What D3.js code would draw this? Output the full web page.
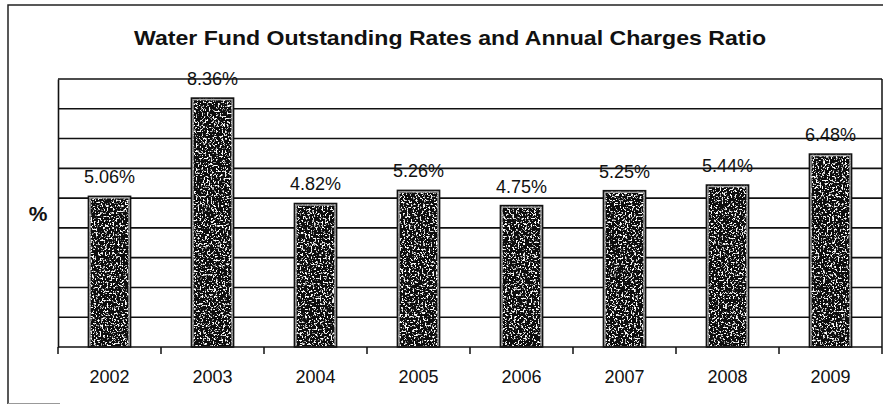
<!DOCTYPE html>
<html><head><meta charset="utf-8">
<script src="https://cdn.jsdelivr.net/npm/d3@7"></script>
<style>body{margin:0;background:#fff}svg{display:block}text{font-family:"Liberation Sans",Arial,sans-serif;fill:#111}</style>
</head><body>
<script>
const years = ["2002","2003","2004","2005","2006","2007","2008","2009"];
const ratios = [5.06, 8.36, 4.82, 5.26, 4.75, 5.25, 5.44, 6.48];
const labels = ["5.06%","8.36%","4.82%","5.26%","4.75%","5.25%","5.44%","6.48%"];
const yTicks = [0,1,2,3,4,5,6,7,8,9];
const title = "Water Fund Outstanding Rates and Annual Charges Ratio";

const W = 883, H = 405;
const m = {left:58, right:1, top:79, bottom:58};
const svg = d3.select("body").append("svg").attr("width",W).attr("height",H);

const defs = svg.append("defs");
const f = defs.append("filter").attr("id","speckle").attr("x",0).attr("y",0).attr("width",1).attr("height",1);
f.append("feTurbulence").attr("type","fractalNoise").attr("baseFrequency","0.55").attr("numOctaves",2).attr("seed",4).attr("result","noise");
f.append("feColorMatrix").attr("in","noise").attr("type","matrix")
  .attr("values","0 0 0 0 1  0 0 0 0 1  0 0 0 0 1  9 0 0 0 -5").attr("result","white");
f.append("feComposite").attr("in","white").attr("in2","SourceGraphic").attr("operator","in").attr("result","spots");
const fm = f.append("feMerge");
fm.append("feMergeNode").attr("in","SourceGraphic");
fm.append("feMergeNode").attr("in","spots");

// outer border
svg.append("path").attr("d",`M8,404 L8,5 L883,5`).attr("fill","none").attr("stroke","#222").attr("stroke-width",1.5);
svg.append("path").attr("d",`M8,403.5 L60,403.5`).attr("fill","none").attr("stroke","#999").attr("stroke-width",1);

const x = d3.scaleBand().domain(years).range([m.left, W-m.right]).paddingInner(0.59).paddingOuter(0.295);
const y = d3.scaleLinear().domain([0,9]).range([H-m.bottom, m.top]);

svg.append("text").attr("x",450).attr("y",45).attr("text-anchor","middle")
  .attr("font-size",21).attr("font-weight","bold")
  .attr("textLength",632).attr("lengthAdjust","spacingAndGlyphs").text(title);

// gridlines
svg.append("g").selectAll("line").data(yTicks.slice(1)).join("line")
  .attr("x1",m.left).attr("x2",W-m.right).attr("y1",d=>y(d)).attr("y2",d=>y(d))
  .attr("stroke","#111").attr("stroke-width",1.6);
// right border of plot
svg.append("line").attr("x1",W-m.right).attr("x2",W-m.right).attr("y1",y(9)).attr("y2",y(0)).attr("stroke","#111").attr("stroke-width",1.5);

// y axis
const yAxis = svg.append("g").attr("transform",`translate(${m.left},0)`).call(d3.axisLeft(y).tickValues([]).tickSizeOuter(0));
yAxis.select(".domain").attr("stroke","#111").attr("stroke-width",1.6);

// bars
svg.append("g").selectAll("rect").data(ratios).join("rect")
  .attr("x",(d,i)=>x(years[i])).attr("width",x.bandwidth())
  .attr("y",d=>y(d)).attr("height",d=>y(0)-y(d))
  .attr("fill","#0c0c0c").attr("filter","url(#speckle)");
svg.append("g").selectAll("rect").data(ratios).join("rect")
  .attr("x",(d,i)=>x(years[i])+1.5).attr("width",x.bandwidth()-3)
  .attr("y",d=>y(d)+1.5).attr("height",d=>y(0)-y(d)-1.5)
  .attr("fill","none").attr("stroke","#aaa").attr("stroke-width",1.5);
svg.append("g").selectAll("rect").data(ratios).join("rect")
  .attr("x",(d,i)=>x(years[i])).attr("width",x.bandwidth())
  .attr("y",d=>y(d)).attr("height",d=>y(0)-y(d))
  .attr("fill","none").attr("stroke","#111").attr("stroke-width",1.5);

// x axis
const tickPos = d3.range(years.length+1).map(i => m.left + i*x.step());
const xa = svg.append("g");
xa.append("line").attr("x1",m.left).attr("x2",W-m.right).attr("y1",y(0)).attr("y2",y(0)).attr("stroke","#111").attr("stroke-width",1.6);
xa.selectAll("line.t").data(tickPos).join("line").attr("class","t")
  .attr("x1",d=>d).attr("x2",d=>d).attr("y1",y(0)).attr("y2",y(0)+7).attr("stroke","#111").attr("stroke-width",1.5);
xa.selectAll("text").data(years).join("text")
  .attr("x",d=>x(d)+x.bandwidth()/2).attr("y",383).attr("text-anchor","middle").attr("font-size",18).text(d=>d);

// value labels
svg.append("g").selectAll("text").data(ratios).join("text")
  .attr("x",(d,i)=>x(years[i])+x.bandwidth()/2).attr("y",d=>y(d)-13)
  .attr("text-anchor","middle").attr("font-size",18).text((d,i)=>labels[i]);

svg.append("text").attr("x",38).attr("y",221).attr("text-anchor","middle").attr("font-size",21).attr("font-weight","bold").text("%");
</script>
</body></html>
